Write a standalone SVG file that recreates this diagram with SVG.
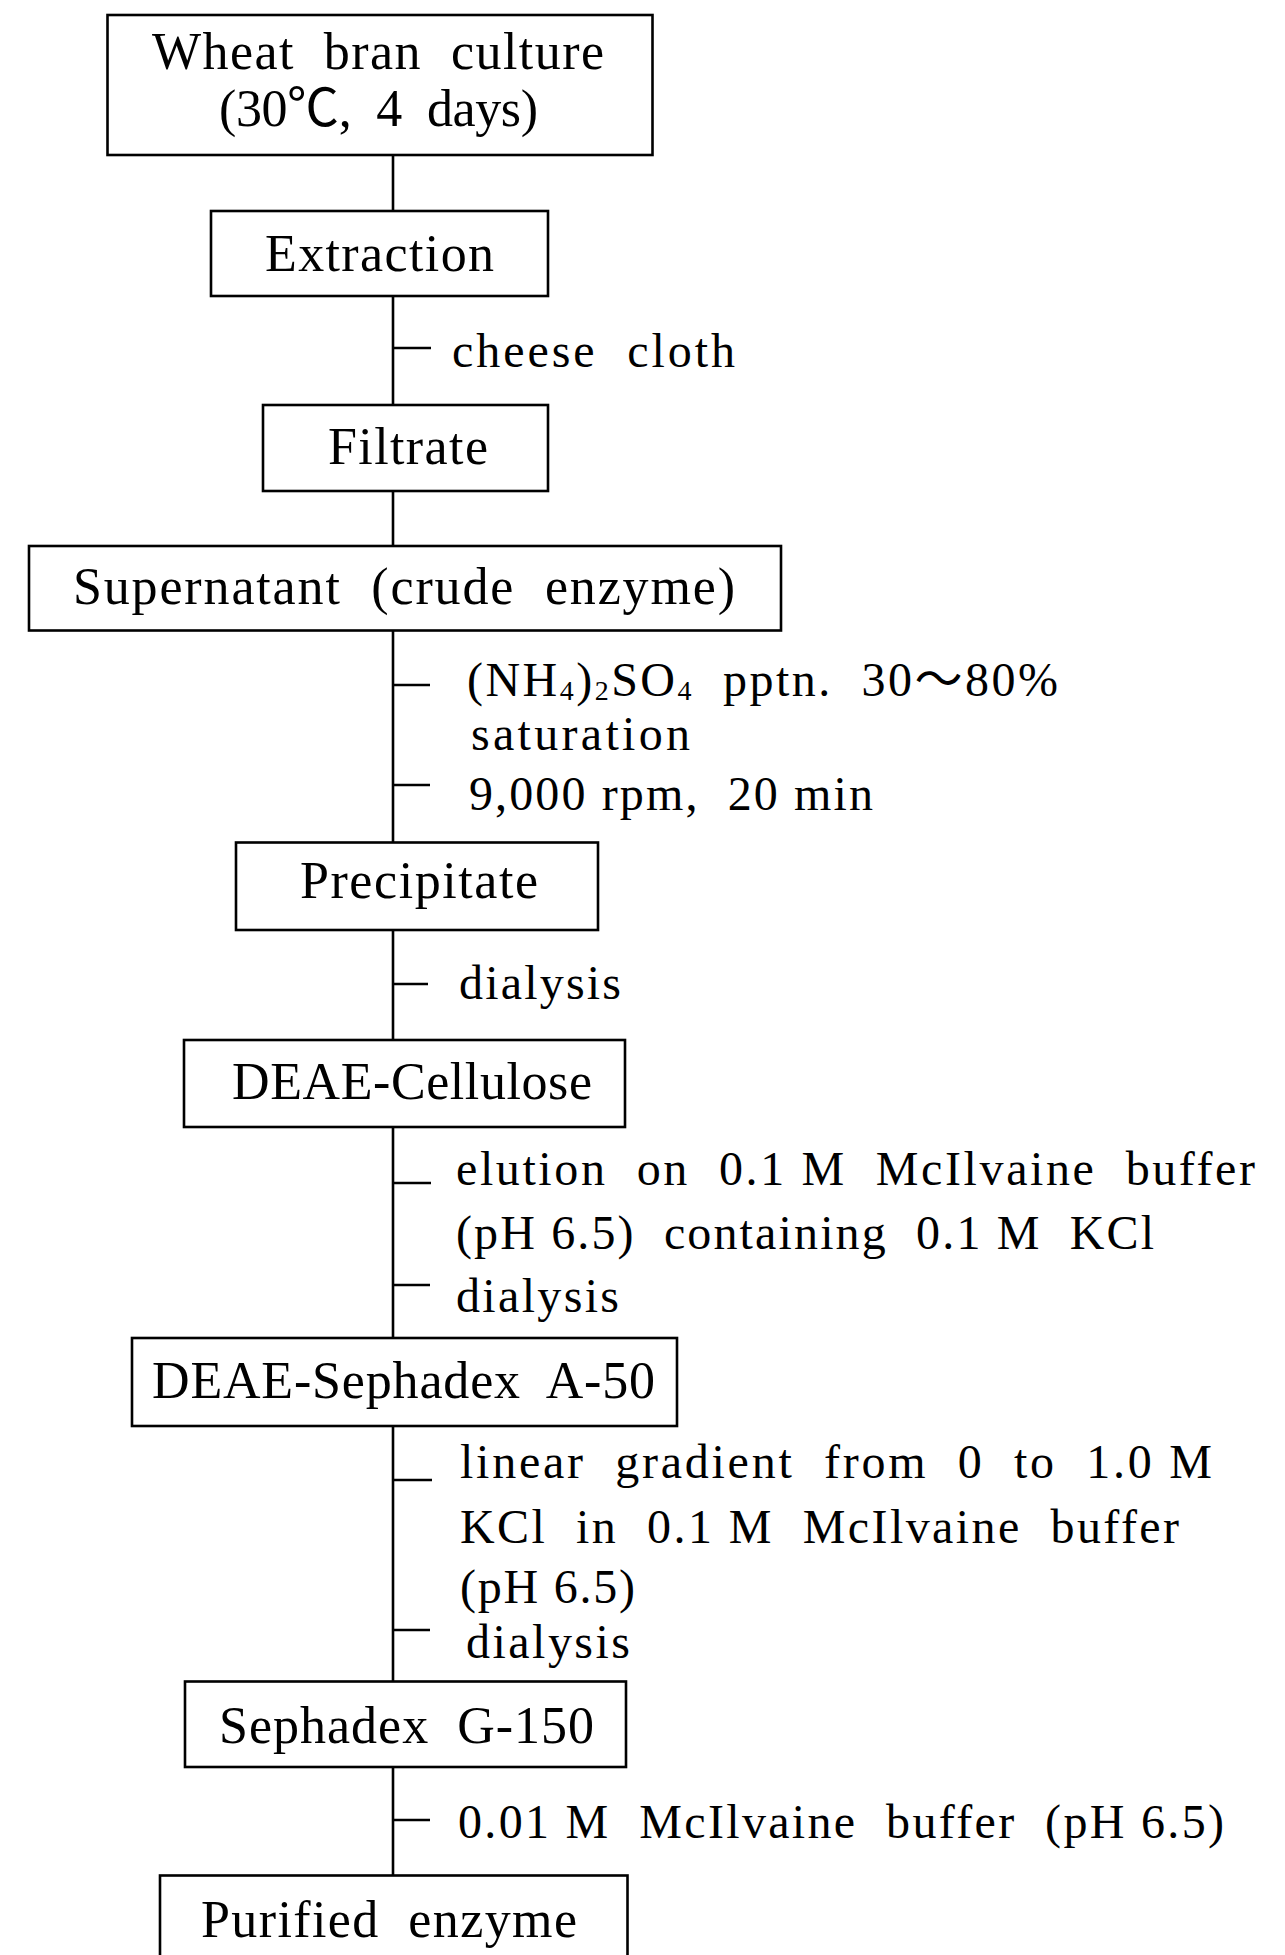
<svg xmlns="http://www.w3.org/2000/svg" width="1285" height="1955" viewBox="0 0 1285 1955">
<style>
.box{fill:#fff;stroke:#000;stroke-width:2.6}
.conn line{stroke:#000;stroke-width:2.6}
.t{font-family:"Liberation Serif","Noto Sans CJK JP",serif;font-size:52px;fill:#000;white-space:pre}
.s{font-family:"Liberation Serif","Noto Sans CJK JP",serif;font-size:48px;fill:#000;white-space:pre}
.sub{font-size:28px}
</style>
<rect width="1285" height="1955" fill="#fff"/>
<g id="connectors" class="conn">
<line x1="393" y1="155" x2="393" y2="211"/>
<line x1="393" y1="296" x2="393" y2="405"/>
<line x1="393" y1="491" x2="393" y2="546"/>
<line x1="393" y1="630" x2="393" y2="843"/>
<line x1="393" y1="930" x2="393" y2="1040"/>
<line x1="393" y1="1127" x2="393" y2="1338"/>
<line x1="393" y1="1426" x2="393" y2="1682"/>
<line x1="393" y1="1767" x2="393" y2="1876"/>
<line x1="393" y1="348" x2="431" y2="348"/>
<line x1="393" y1="685" x2="430" y2="685"/>
<line x1="393" y1="785" x2="430" y2="785"/>
<line x1="393" y1="984" x2="428" y2="984"/>
<line x1="393" y1="1183" x2="431" y2="1183"/>
<line x1="393" y1="1285" x2="430" y2="1285"/>
<line x1="393" y1="1480" x2="432" y2="1480"/>
<line x1="393" y1="1630" x2="430" y2="1630"/>
<line x1="393" y1="1820" x2="430" y2="1820"/>
</g>
<g id="n1"><rect class="box" x="107.5" y="15" width="545" height="140"/>
<text class="t" x="152" y="69" textLength="452">Wheat  bran  culture</text>
<text class="t" x="219" y="126" textLength="319">(30℃,  4  days)</text></g>
<g id="n2"><rect class="box" x="211" y="211" width="337" height="85"/>
<text class="t" x="265" y="271" textLength="229">Extraction</text></g>
<g id="l1"><text class="s" x="452" y="367" textLength="283">cheese  cloth</text></g>
<g id="n3"><rect class="box" x="263" y="405" width="285" height="86"/>
<text class="t" x="328" y="464" textLength="160">Filtrate</text></g>
<g id="n4"><rect class="box" x="29" y="546" width="752" height="84.5"/>
<text class="t" x="73" y="604" textLength="662">Supernatant  (crude  enzyme)</text></g>
<g id="l2">
<text class="s" x="467" y="696" textLength="591">(NH<tspan class="sub" dy="4">4</tspan><tspan dy="-4">)</tspan><tspan class="sub" dy="4">2</tspan><tspan dy="-4">SO</tspan><tspan class="sub" dy="4">4</tspan><tspan dy="-4">  pptn.  30～80%</tspan></text>
<text class="s" x="471" y="750" textLength="219">saturation</text>
<text class="s" x="469" y="810" textLength="404">9,000 rpm,  20 min</text></g>
<g id="n5"><rect class="box" x="236" y="842.5" width="362" height="87.5"/>
<text class="t" x="300" y="898" textLength="238">Precipitate</text></g>
<g id="l3"><text class="s" x="459" y="999" textLength="162">dialysis</text></g>
<g id="n6"><rect class="box" x="184" y="1040" width="441" height="87"/>
<text class="t" x="232" y="1099" textLength="360">DEAE-Cellulose</text></g>
<g id="l4">
<text class="s" x="456" y="1185" textLength="799">elution  on  0.1 M  McIlvaine  buffer</text>
<text class="s" x="456" y="1249" textLength="698">(pH 6.5)  containing  0.1 M  KCl</text>
<text class="s" x="456" y="1312" textLength="163">dialysis</text></g>
<g id="n7"><rect class="box" x="132" y="1338" width="545" height="88"/>
<text class="t" x="152" y="1398" textLength="503">DEAE-Sephadex  A-50</text></g>
<g id="l5">
<text class="s" x="460" y="1478" textLength="752">linear  gradient  from  0  to  1.0 M</text>
<text class="s" x="460" y="1543" textLength="719">KCl  in  0.1 M  McIlvaine  buffer</text>
<text class="s" x="460" y="1603" textLength="175">(pH 6.5)</text>
<text class="s" x="466" y="1658" textLength="164">dialysis</text></g>
<g id="n8"><rect class="box" x="185" y="1681.5" width="441" height="85.5"/>
<text class="t" x="219" y="1743" textLength="375">Sephadex  G-150</text></g>
<g id="l6"><text class="s" x="458" y="1838" textLength="766">0.01 M  McIlvaine  buffer  (pH 6.5)</text></g>
<g id="n9"><rect class="box" x="160" y="1875.5" width="467.5" height="110"/>
<text class="t" x="201" y="1937" textLength="376">Purified  enzyme</text></g>
</svg>
